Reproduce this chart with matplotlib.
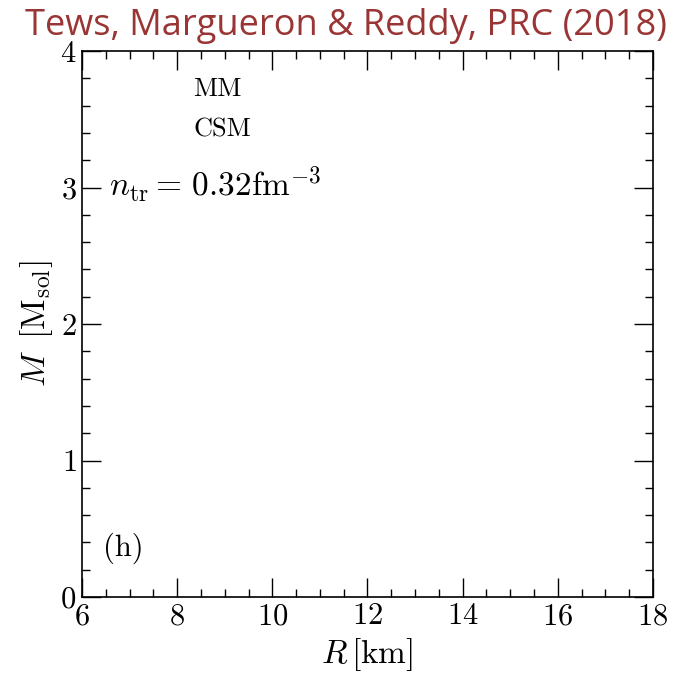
import matplotlib
matplotlib.use("Agg")
import matplotlib.pyplot as plt
from matplotlib.ticker import MultipleLocator

plt.rcParams["mathtext.fontset"] = "cm"
plt.rcParams["font.family"] = "serif"
plt.rcParams["font.serif"] = ["cmr10"]
plt.rcParams["axes.formatter.use_mathtext"] = True

# Axis ranges and ticks
r_limits = [6, 18]
m_limits = [0, 4]
r_major = [6, 8, 10, 12, 14, 16, 18]
m_major = [0, 1, 2, 3, 4]

title = "Tews, Margueron & Reddy, PRC (2018)"
labels_upper = ["MM", "CSM"]
n_tr_label = r"$n_{\rm tr}=\,0.32{\rm fm}^{-3}$"
panel_tag = "(h)"

fig = plt.figure(figsize=(6.92, 6.81), dpi=100)
ax = fig.add_axes([0.1185, 0.1233, 0.9436 - 0.1185, 0.925 - 0.1233])

ax.set_xlim(*r_limits)
ax.set_ylim(*m_limits)
ax.set_xticks(r_major)
ax.set_yticks(m_major)
ax.xaxis.set_minor_locator(MultipleLocator(0.5))
ax.yaxis.set_minor_locator(MultipleLocator(0.2))
ax.tick_params(which="both", direction="in", top=True, right=True, labelsize=22, color="black")
ax.tick_params(which="major", length=14, width=1.0, pad=4)
ax.tick_params(which="minor", length=6, width=1.0)
for s in ax.spines.values():
    s.set_linewidth(1.2)

ax.set_xlabel(r"$R\,[{\rm km}]$", fontsize=24)
ax.set_ylabel(r"$M\;\;[{\rm M_{sol}}]$", fontsize=24)

ax.text(0.195, 0.93, labels_upper[0], transform=ax.transAxes, fontsize=19, va="center", ha="left",
        family="cmr10")
ax.text(0.195, 0.857, labels_upper[1], transform=ax.transAxes, fontsize=19, va="center", ha="left",
        family="cmr10")
ax.text(0.048, 0.755, n_tr_label, transform=ax.transAxes, fontsize=24, va="center", ha="left")
ax.text(0.036, 0.09, panel_tag, transform=ax.transAxes, fontsize=22, va="center", ha="left",
        family="cmr10")

fig.text(0.5, 1 - 35 / 681, title, ha="center", va="baseline", fontsize=26, color="#9a3535",
         family="Open Sans")

fig.savefig("out.png", dpi=100)
